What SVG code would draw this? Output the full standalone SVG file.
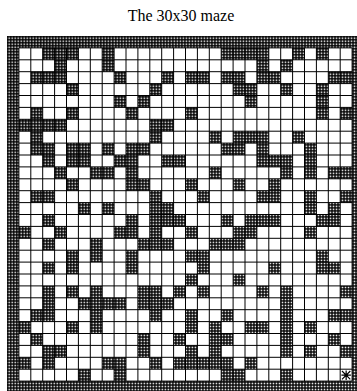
<svg xmlns="http://www.w3.org/2000/svg" width="357" height="391" viewBox="0 0 357 391">
<style>
.t{font-family:"Liberation Serif","Times New Roman",serif;font-size:16px;fill:#000}
.w{fill:url(#h)}
.g{fill:none;stroke:#000;stroke-width:1;vector-effect:non-scaling-stroke}
.m{fill:none;stroke:#000;stroke-width:1.2;vector-effect:non-scaling-stroke}
</style>
<defs>
<pattern id="h" width="0.126" height="0.126" patternUnits="userSpaceOnUse">
<rect width="0.126" height="0.126" fill="#fff"/>
<path d="M0 0.032H0.126M0.032 0V0.126" stroke="#000" stroke-width="0.07"/>
</pattern>
</defs>
<rect width="357" height="391" fill="#fff"/>
<text class="t" x="181" y="21" text-anchor="middle">The 30x30 maze</text>
<g id="maze" transform="translate(7,36) scale(11.9)">
<g id="walls" class="w">
<rect x="0" y="0" width="30" height="1"/>
<rect x="0" y="29" width="30" height="1"/>
<rect x="0" y="1" width="1" height="28"/>
<rect x="29" y="1" width="1" height="28"/>
<rect x="3" y="1" width="3" height="1"/><rect x="8" y="1" width="1" height="1"/><rect x="18" y="1" width="4" height="1"/><rect x="24" y="1" width="1" height="1"/><rect x="26" y="1" width="1" height="1"/>
<rect x="4" y="2" width="1" height="1"/><rect x="8" y="2" width="1" height="1"/><rect x="21" y="2" width="1" height="1"/><rect x="23" y="2" width="1" height="1"/>
<rect x="2" y="3" width="3" height="1"/><rect x="9" y="3" width="1" height="1"/><rect x="13" y="3" width="1" height="1"/><rect x="15" y="3" width="2" height="1"/><rect x="18" y="3" width="2" height="1"/><rect x="21" y="3" width="2" height="1"/><rect x="27" y="3" width="2" height="1"/>
<rect x="5" y="4" width="1" height="1"/><rect x="12" y="4" width="1" height="1"/><rect x="19" y="4" width="2" height="1"/><rect x="23" y="4" width="1" height="1"/><rect x="26" y="4" width="1" height="1"/>
<rect x="9" y="5" width="1" height="1"/><rect x="11" y="5" width="1" height="1"/><rect x="20" y="5" width="1" height="1"/><rect x="26" y="5" width="1" height="1"/>
<rect x="2" y="6" width="1" height="1"/><rect x="5" y="6" width="1" height="1"/><rect x="10" y="6" width="1" height="1"/><rect x="15" y="6" width="1" height="1"/><rect x="26" y="6" width="1" height="1"/><rect x="28" y="6" width="1" height="1"/>
<rect x="1" y="7" width="4" height="1"/><rect x="12" y="7" width="2" height="1"/>
<rect x="2" y="8" width="1" height="1"/><rect x="12" y="8" width="1" height="1"/><rect x="17" y="8" width="1" height="1"/><rect x="19" y="8" width="3" height="1"/><rect x="24" y="8" width="1" height="1"/>
<rect x="2" y="9" width="2" height="1"/><rect x="5" y="9" width="2" height="1"/><rect x="8" y="9" width="1" height="1"/><rect x="10" y="9" width="2" height="1"/><rect x="18" y="9" width="2" height="1"/><rect x="21" y="9" width="1" height="1"/><rect x="25" y="9" width="1" height="1"/>
<rect x="3" y="10" width="1" height="1"/><rect x="5" y="10" width="2" height="1"/><rect x="9" y="10" width="2" height="1"/><rect x="13" y="10" width="2" height="1"/><rect x="21" y="10" width="3" height="1"/><rect x="25" y="10" width="1" height="1"/>
<rect x="4" y="11" width="1" height="1"/><rect x="7" y="11" width="2" height="1"/><rect x="10" y="11" width="1" height="1"/><rect x="17" y="11" width="1" height="1"/><rect x="23" y="11" width="1" height="1"/><rect x="25" y="11" width="1" height="1"/><rect x="27" y="11" width="2" height="1"/>
<rect x="5" y="12" width="1" height="1"/><rect x="10" y="12" width="2" height="1"/><rect x="15" y="12" width="1" height="1"/><rect x="19" y="12" width="1" height="1"/><rect x="22" y="12" width="1" height="1"/>
<rect x="2" y="13" width="2" height="1"/><rect x="12" y="13" width="1" height="1"/><rect x="16" y="13" width="1" height="1"/><rect x="21" y="13" width="2" height="1"/><rect x="25" y="13" width="1" height="1"/><rect x="28" y="13" width="1" height="1"/>
<rect x="6" y="14" width="1" height="1"/><rect x="8" y="14" width="1" height="1"/><rect x="12" y="14" width="2" height="1"/><rect x="25" y="14" width="1" height="1"/><rect x="27" y="14" width="1" height="1"/>
<rect x="3" y="15" width="1" height="1"/><rect x="10" y="15" width="1" height="1"/><rect x="12" y="15" width="3" height="1"/><rect x="18" y="15" width="1" height="1"/><rect x="20" y="15" width="3" height="1"/><rect x="26" y="15" width="2" height="1"/>
<rect x="1" y="16" width="1" height="1"/><rect x="4" y="16" width="1" height="1"/><rect x="9" y="16" width="2" height="1"/><rect x="12" y="16" width="1" height="1"/><rect x="15" y="16" width="1" height="1"/><rect x="19" y="16" width="2" height="1"/><rect x="25" y="16" width="1" height="1"/>
<rect x="3" y="17" width="1" height="1"/><rect x="7" y="17" width="1" height="1"/><rect x="11" y="17" width="3" height="1"/><rect x="17" y="17" width="3" height="1"/>
<rect x="5" y="18" width="1" height="1"/><rect x="7" y="18" width="1" height="1"/><rect x="10" y="18" width="1" height="1"/><rect x="15" y="18" width="2" height="1"/><rect x="26" y="18" width="1" height="1"/>
<rect x="3" y="19" width="1" height="1"/><rect x="5" y="19" width="1" height="1"/><rect x="10" y="19" width="1" height="1"/><rect x="16" y="19" width="1" height="1"/><rect x="22" y="19" width="1" height="1"/><rect x="26" y="19" width="2" height="1"/>
<rect x="15" y="20" width="1" height="1"/><rect x="19" y="20" width="1" height="1"/>
<rect x="3" y="21" width="1" height="1"/><rect x="5" y="21" width="1" height="1"/><rect x="7" y="21" width="1" height="1"/><rect x="11" y="21" width="2" height="1"/><rect x="14" y="21" width="1" height="1"/><rect x="16" y="21" width="1" height="1"/><rect x="21" y="21" width="1" height="1"/><rect x="23" y="21" width="1" height="1"/><rect x="28" y="21" width="1" height="1"/>
<rect x="3" y="22" width="1" height="1"/><rect x="6" y="22" width="4" height="1"/><rect x="11" y="22" width="3" height="1"/><rect x="23" y="22" width="1" height="1"/>
<rect x="2" y="23" width="2" height="1"/><rect x="7" y="23" width="1" height="1"/><rect x="12" y="23" width="1" height="1"/><rect x="15" y="23" width="1" height="1"/><rect x="18" y="23" width="1" height="1"/><rect x="23" y="23" width="1" height="1"/><rect x="27" y="23" width="2" height="1"/>
<rect x="1" y="24" width="1" height="1"/><rect x="5" y="24" width="1" height="1"/><rect x="7" y="24" width="1" height="1"/><rect x="15" y="24" width="1" height="1"/><rect x="17" y="24" width="1" height="1"/><rect x="20" y="24" width="2" height="1"/><rect x="23" y="24" width="1" height="1"/><rect x="25" y="24" width="1" height="1"/>
<rect x="2" y="25" width="1" height="1"/><rect x="11" y="25" width="1" height="1"/><rect x="14" y="25" width="1" height="1"/><rect x="17" y="25" width="2" height="1"/><rect x="23" y="25" width="1" height="1"/><rect x="27" y="25" width="1" height="1"/>
<rect x="3" y="26" width="2" height="1"/><rect x="11" y="26" width="1" height="1"/><rect x="15" y="26" width="1" height="1"/><rect x="17" y="26" width="1" height="1"/><rect x="23" y="26" width="1" height="1"/><rect x="25" y="26" width="1" height="1"/><rect x="28" y="26" width="1" height="1"/>
<rect x="1" y="27" width="1" height="1"/><rect x="3" y="27" width="1" height="1"/><rect x="8" y="27" width="2" height="1"/><rect x="12" y="27" width="1" height="1"/><rect x="14" y="27" width="5" height="1"/><rect x="20" y="27" width="1" height="1"/>
<rect x="6" y="28" width="1" height="1"/><rect x="9" y="28" width="1" height="1"/><rect x="18" y="28" width="2" height="1"/><rect x="23" y="28" width="1" height="1"/>
</g>
<path id="grid" class="g" d="M1 1V29M2 1V29M3 1V29M4 1V29M5 1V29M6 1V29M7 1V29M8 1V29M9 1V29M10 1V29M11 1V29M12 1V29M13 1V29M14 1V29M15 1V29M16 1V29M17 1V29M18 1V29M19 1V29M20 1V29M21 1V29M22 1V29M23 1V29M24 1V29M25 1V29M26 1V29M27 1V29M28 1V29M29 1V29M1 1H29M1 2H29M1 3H29M1 4H29M1 5H29M1 6H29M1 7H29M1 8H29M1 9H29M1 10H29M1 11H29M1 12H29M1 13H29M1 14H29M1 15H29M1 16H29M1 17H29M1 18H29M1 19H29M1 20H29M1 21H29M1 22H29M1 23H29M1 24H29M1 25H29M1 26H29M1 27H29M1 28H29M1 29H29"/>
<g id="goal">
<path class="m" d="M28.15 28.15L28.85 28.85M28.85 28.15L28.15 28.85M28.5 28.1V28.9M28.1 28.5H28.9"/>
<circle cx="28.5" cy="28.5" r="0.12" fill="#000"/>
</g>
</g>
</svg>
